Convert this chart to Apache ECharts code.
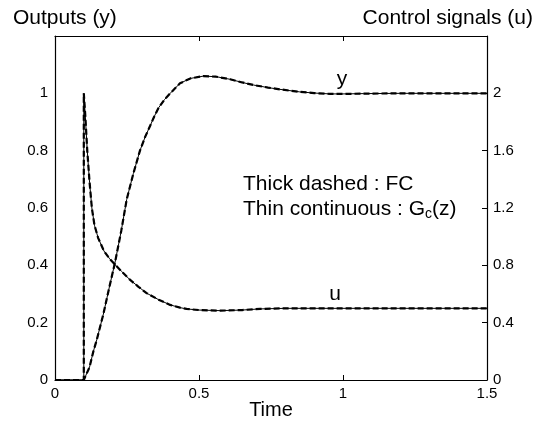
<!DOCTYPE html>
<html>
<head>
<meta charset="utf-8">
<script src="https://cdn.jsdelivr.net/npm/echarts@6/dist/echarts.min.js"></script>
<style>
html,body{margin:0;padding:0;background:#fff;}
#chart{width:534px;height:425px;}
</style>
</head>
<body>
<div id="chart"></div>
<script>
// Output y (left axis)
var yTime = [0, 0.1, 0.104, 0.12, 0.133, 0.145, 0.168, 0.19, 0.208, 0.23, 0.249, 0.272, 0.295, 0.313, 0.33, 0.345, 0.36, 0.38, 0.40, 0.434, 0.47, 0.515, 0.56, 0.608, 0.65, 0.689, 0.74, 0.78, 0.85, 0.9, 0.955, 1.0, 1.07, 1.2, 1.5];
var yVals = [0, 0, 0, 0.045, 0.099, 0.14, 0.23, 0.33, 0.408, 0.52, 0.63, 0.72, 0.80, 0.848, 0.886, 0.92, 0.95, 0.978, 1.0, 1.035, 1.052, 1.060, 1.058, 1.049, 1.038, 1.029, 1.02, 1.014, 1.005, 1.001, 0.998, 0.998, 0.999, 1.0, 1.0];
// Control signal u (right axis)
var uTime = [0, 0.1, 0.1, 0.105, 0.112, 0.12, 0.128, 0.137, 0.15, 0.17, 0.19, 0.205, 0.23, 0.26, 0.29, 0.318, 0.36, 0.40, 0.434, 0.457, 0.5, 0.573, 0.65, 0.712, 0.8, 1.0, 1.5];
var uVals = [0, 0, 2.0, 1.85, 1.6, 1.38, 1.2, 1.08, 0.99, 0.9, 0.845, 0.812, 0.76, 0.70, 0.65, 0.606, 0.56, 0.524, 0.505, 0.496, 0.488, 0.484, 0.488, 0.496, 0.50, 0.50, 0.50];

var xTicks = [0, 0.5, 1, 1.5];
var leftTicks = [0, 0.2, 0.4, 0.6, 0.8, 1];
var rightTicks = [0, 0.4, 0.8, 1.2, 1.6, 2];

function pairs(t, v){ return t.map(function(x,i){ return [x, v[i]]; }); }

var FONT = '"Liberation Sans", Arial, sans-serif';
var chart = echarts.init(document.getElementById('chart'));

function lineSeries(data, yIdx, dashed){
  return {
    type: 'line', xAxisIndex: 0, yAxisIndex: yIdx, data: data,
    showSymbol: false, symbol: 'none', smooth: false, animation: false,
    lineStyle: dashed ? {color: '#000', width: 2.2, type: [6, 3]} : {color: '#000', width: 1},
    z: dashed ? 3 : 2
  };
}
var lineAx = {show: true, onZero: false, lineStyle: {color: '#000', width: 1.2}};

chart.setOption({
  animation: false,
  backgroundColor: '#fff',
  grid: {left: 55, right: 47, top: 36, bottom: 45, containLabel: false, outerBoundsMode: 'none'},
  xAxis: [{
    type: 'value', min: 0, max: 1.5, interval: 0.5, position: 'bottom',
    axisLine: lineAx,
    axisTick: {inside: true, length: 5, lineStyle: {color: '#000'}},
    axisLabel: {fontFamily: FONT, fontSize: 15, color: '#000', margin: 6,
      formatter: function(v){ return xTicks.indexOf(v) >= 0 ? String(v) : ''; }},
    splitLine: {show: false}
  }, {
    type: 'value', min: 0, max: 1.5, interval: 0.5, position: 'top',
    axisLine: lineAx,
    axisTick: {inside: true, length: 5, lineStyle: {color: '#000'}},
    axisLabel: {show: false}, splitLine: {show: false}
  }],
  yAxis: [{
    type: 'value', min: 0, max: 1.2, interval: 0.2, position: 'left',
    axisLine: lineAx,
    axisTick: {show: false},
    axisLabel: {fontFamily: FONT, fontSize: 15, color: '#000', margin: 7,
      formatter: function(v){ var r = Math.round(v*10)/10; return leftTicks.indexOf(r) >= 0 ? String(r) : ''; }},
    splitLine: {show: false}
  }, {
    type: 'value', min: 0, max: 2.4, interval: 0.4, position: 'right',
    axisLine: lineAx,
    axisTick: {inside: true, length: 5, lineStyle: {color: '#000'}},
    axisLabel: {fontFamily: FONT, fontSize: 15, color: '#000', margin: 6,
      formatter: function(v){ var r = Math.round(v*10)/10; return rightTicks.indexOf(r) >= 0 ? String(r) : ''; }},
    splitLine: {show: false}
  }],
  graphic: [
    {type: 'text', x: 13, y: 18, style: {text: 'Outputs (y)', font: '21px ' + FONT, fill: '#000', verticalAlign: 'middle'}},
    {type: 'text', x: 533, y: 18, style: {text: 'Control signals (u)', font: '21px ' + FONT, fill: '#000', align: 'right', verticalAlign: 'middle'}},
    {type: 'text', x: 271, y: 410, style: {text: 'Time', font: '20px ' + FONT, fill: '#000', align: 'center', verticalAlign: 'middle'}},
    {type: 'text', x: 243, y: 184, style: {text: 'Thick dashed : FC', font: '21px ' + FONT, fill: '#000', verticalAlign: 'middle'}},
    {type: 'text', x: 243, y: 209, style: {
      text: '{g|Thin continuous : G}{s|c}{g|(z)}', fill: '#000', verticalAlign: 'middle',
      rich: {g: {fontSize: 21, fontFamily: FONT, fill: '#000', height: 24},
             s: {fontSize: 14, fontFamily: FONT, fill: '#000', height: 24, padding: [10, 0, 0, 0]}}
    }},
    {type: 'text', x: 342, y: 79, style: {text: 'y', font: '21px ' + FONT, fill: '#000', align: 'center', verticalAlign: 'middle'}},
    {type: 'text', x: 335, y: 294, style: {text: 'u', font: '21px ' + FONT, fill: '#000', align: 'center', verticalAlign: 'middle'}}
  ],
  series: [
    lineSeries(pairs(yTime, yVals), 0, false),
    lineSeries(pairs(uTime, uVals), 1, false),
    lineSeries(pairs(yTime, yVals), 0, true),
    lineSeries(pairs(uTime, uVals), 1, true)
  ]
});
</script>
</body>
</html>
